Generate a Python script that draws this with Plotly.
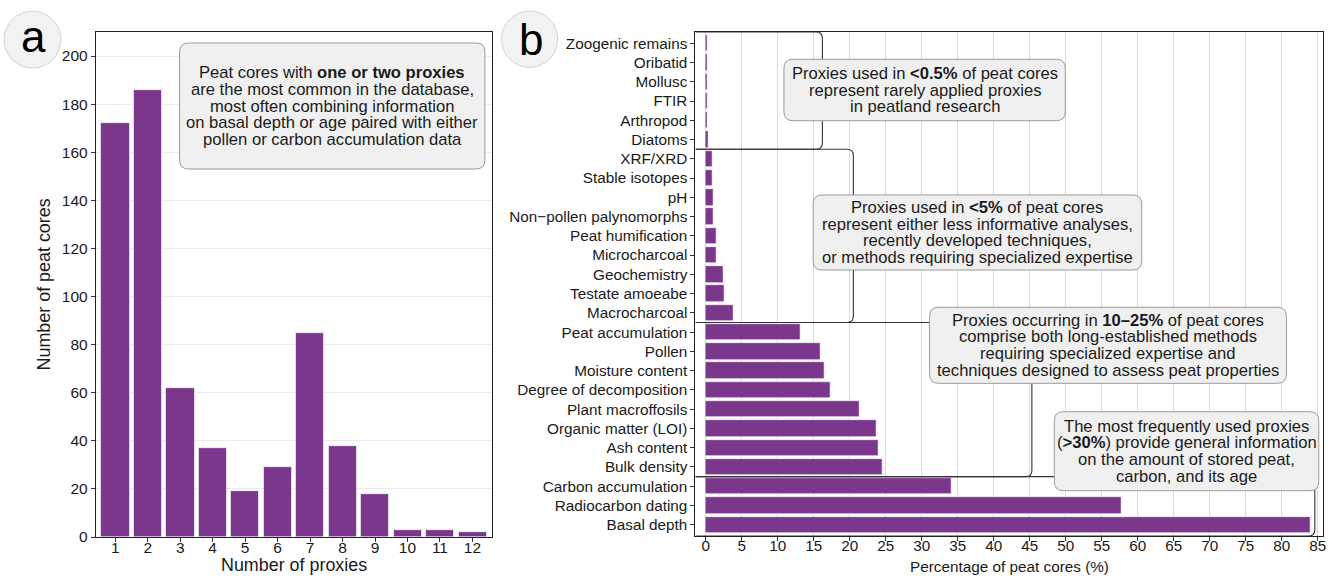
import plotly.graph_objects as go

W, H = 1338, 576
# Calibration: the figure renders 8 px shorter than requested, so ask for 8 px more.
H_REQ = H + 8
FONT = "Liberation Sans, Arial, Helvetica, sans-serif"
PURPLE = "#7a378b"
INK = "#1a1a1a"

# ---------------- data ----------------
# Panel a: number of proxies per peat core
n_proxies = list(range(1, 13))
n_cores = [172, 186, 62, 37, 19, 29, 85, 38, 18, 3, 3, 2]

# Panel b: percentage of peat cores using each proxy (top to bottom)
proxy_names = [
    "Zoogenic remains", "Oribatid", "Mollusc", "FTIR", "Arthropod", "Diatoms",
    "XRF/XRD", "Stable isotopes", "pH", "Non\u2212pollen palynomorphs",
    "Peat humification", "Microcharcoal", "Geochemistry", "Testate amoeabe",
    "Macrocharcoal", "Peat accumulation", "Pollen", "Moisture content",
    "Degree of decomposition", "Plant macroffosils", "Organic matter (LOI)",
    "Ash content", "Bulk density", "Carbon accumulation", "Radiocarbon dating",
    "Basal depth",
]
proxy_pct = [0.2, 0.2, 0.2, 0.2, 0.2, 0.4, 0.9, 0.9, 1.05, 1.05, 1.5, 1.5, 2.4,
             2.6, 3.9, 13.2, 16.0, 16.45, 17.3, 21.3, 23.75, 24.0, 24.5, 34.1,
             57.75, 84.0]
x_ticks_b = list(range(0, 90, 5))

# Groups (last index of each group) and bracket x position (percent)
group_last_idx = [5, 14, 22, 25]
bracket_x = [16.2, 20.5, 45.3, 84.6]

# Annotation texts
note_a = ["Peat cores with <b>one or two proxies</b>",
          "are the most common in the database,",
          "most often combining information",
          "on basal depth or age paired with either",
          "pollen or carbon accumulation data"]
notes_b = [
    ["Proxies used in <b>&lt;0.5%</b> of peat cores",
     "represent rarely applied proxies",
     "in peatland research"],
    ["Proxies used in <b>&lt;5%</b> of peat cores",
     "represent either less informative analyses,",
     "recently developed techniques,",
     "or methods requiring specialized expertise"],
    ["Proxies occurring in <b>10\u201325%</b> of peat cores",
     "comprise both long-established methods",
     "requiring specialized expertise and",
     "techniques designed to assess peat properties"],
    ["The most frequently used proxies",
     "(<b>&gt;30%</b>) provide general information",
     "on the amount of stored peat,",
     "carbon, and its age"],
]

# ---------------- layout geometry (pixels) ----------------
A_L, A_R, A_T, A_B = 96, 493, 32, 537
B_L, B_R, B_T, B_B = 697, 1326, 32, 536
XA_RANGE = [0.4, 12.6]
YA_RANGE = [0, 210]
XB_RANGE = [-1.43, 85.74]
NB = len(proxy_names)
YB_RANGE = [NB - 1 + 0.585, -0.585]

def px(x):
    return x / W

def py(y):
    return 1 - y / H

def rrect_paper(x0, y0, x1, y1, r):
    pts = [("M", [(x0 + r, y0)]), ("L", [(x1 - r, y0)]),
           ("Q", [(x1, y0), (x1, y0 + r)]), ("L", [(x1, y1 - r)]),
           ("Q", [(x1, y1), (x1 - r, y1)]), ("L", [(x0 + r, y1)]),
           ("Q", [(x0, y1), (x0, y1 - r)]), ("L", [(x0, y0 + r)]),
           ("Q", [(x0, y0), (x0 + r, y0)])]
    s = ""
    for cmd, ps in pts:
        s += cmd + " " + " ".join(f"{px(a):.6f},{py(b):.6f}" for a, b in ps) + " "
    return s + "Z"

fig = go.Figure()

fig.add_trace(go.Bar(
    x=n_proxies, y=n_cores, width=0.87,
    marker=dict(color=PURPLE, line=dict(color="white", width=0.6)),
    xaxis="x", yaxis="y", showlegend=False, hoverinfo="x+y"))

fig.add_trace(go.Bar(
    x=proxy_pct, y=list(range(NB)), orientation="h", width=0.85,
    marker=dict(color=PURPLE, line=dict(color="white", width=0.6)),
    xaxis="x2", yaxis="y2", showlegend=False, hoverinfo="x",
    customdata=proxy_names))

axis_common = dict(showline=True, linecolor="#222", linewidth=1, mirror=True,
                   ticks="outside", ticklen=4, tickcolor="#333", tickwidth=1,
                   zeroline=False)

shapes = []
annotations = []

# brackets (data coords of panel b)
rx, ry = 0.85, 0.32
prev = -0.585
for k, (last, bx) in enumerate(zip(group_last_idx, bracket_x)):
    top = prev
    bot = last + 0.5 if k < len(group_last_idx) - 1 else NB - 1 + 0.585
    path = (f"M {XB_RANGE[0]},{top} L {bx - rx},{top} Q {bx},{top} {bx},{top + ry} "
            f"L {bx},{bot - ry} Q {bx},{bot} {bx - rx},{bot} L {XB_RANGE[0]},{bot}")
    shapes.append(dict(type="path", xref="x2", yref="y2", path=path,
                       line=dict(color="#333", width=1.1)))
    prev = bot

# rounded boxes (pixels) and text lines
LS = 16.67
boxes = [
    (180, 43, 486, 169, note_a),
    (785.7, 59.3, 1067.7, 120.7, notes_b[0]),
    (815, 195, 1144.3, 270, notes_b[1]),
    (931.7, 307.3, 1289.3, 383.3, notes_b[2]),
    (1056.7, 411.7, 1321.7, 490.7, notes_b[3]),
]
for x0, y0, x1, y1, lines in boxes:
    shapes.append(dict(type="path", xref="paper", yref="paper",
                       path=rrect_paper(x0, y0, x1, y1, 9),
                       fillcolor="#f0f0f0", line=dict(color="#9a9a9a", width=1)))
    cx, cy = (x0 + x1) / 2, (y0 + y1) / 2
    n = len(lines)
    for i, t in enumerate(lines):
        yy = cy + (i - (n - 1) / 2) * LS
        annotations.append(dict(text=t, x=px(cx), y=py(yy), xref="paper", yref="paper",
                                xanchor="center", yanchor="middle", showarrow=False,
                                borderpad=0,
                                font=dict(family=FONT, size=16.6, color=INK)))

# panel label circles
for (cx, cy, r, lab, ly) in [(32.5, 39.7, 28.5, "a", 36), (530.8, 39.2, 28.2, "b", 39)]:
    shapes.append(dict(type="circle", xref="paper", yref="paper",
                       x0=px(cx - r), x1=px(cx + r), y0=py(cy + r), y1=py(cy - r),
                       fillcolor="#f2f2f2", line=dict(color="#d4d4d4", width=1)))
    annotations.append(dict(text=lab, x=px(cx + 1), y=py(ly), xref="paper", yref="paper",
                            xanchor="center", yanchor="middle", showarrow=False,
                            font=dict(family=FONT, size=44, color="black")))

# axis titles
annotations += [
    dict(text="Number of proxies", x=px((A_L + A_R) / 2), y=py(565), xref="paper",
         yref="paper", showarrow=False, xanchor="center", yanchor="middle",
         font=dict(family=FONT, size=17.9, color=INK)),
    dict(text="Number of peat cores", x=px(44), y=py((A_T + A_B) / 2), xref="paper",
         yref="paper", showarrow=False, xanchor="center", yanchor="middle", textangle=-90,
         font=dict(family=FONT, size=17.9, color=INK)),
    dict(text="Percentage of peat cores (%)", x=px((B_L + B_R) / 2), y=py(566),
         xref="paper", yref="paper", showarrow=False, xanchor="center", yanchor="middle",
         font=dict(family=FONT, size=15.3, color=INK)),
]

fig.update_layout(
    width=W, height=H_REQ, autosize=False,
    margin=dict(l=0, r=0, t=0, b=0),
    paper_bgcolor="white", plot_bgcolor="white",
    bargap=0, showlegend=False,
    xaxis=dict(domain=[px(A_L), px(A_R)], range=XA_RANGE, tickmode="array",
               tickvals=n_proxies, showgrid=False, anchor="y", ticklabelstandoff=-8,
               tickfont=dict(family=FONT, size=15.5, color=INK), **axis_common),
    yaxis=dict(domain=[py(A_B), py(A_T)], range=YA_RANGE, dtick=20, tick0=0,
               showgrid=True, gridcolor="#ebebeb", gridwidth=1, anchor="x",
               tickfont=dict(family=FONT, size=15.5, color=INK), **axis_common),
    xaxis2=dict(domain=[px(B_L), px(B_R)], range=XB_RANGE, tickmode="array",
                tickvals=x_ticks_b, showgrid=True, gridcolor="#d9d9d9", gridwidth=1,
                anchor="y2", ticklabelstandoff=-8,
                tickfont=dict(family=FONT, size=15.3, color=INK), **axis_common),
    yaxis2=dict(domain=[py(B_B), py(B_T)], range=YB_RANGE, tickmode="array",
                tickvals=list(range(NB)), ticktext=proxy_names, showgrid=False,
                anchor="x2",
                tickfont=dict(family=FONT, size=15.3, color=INK), **axis_common),
    shapes=shapes,
    annotations=annotations,
)

# remove the default 8 px body margin so the figure starts at the window corner
fig.write_html("out.html",
               config={"displayModeBar": False},
               post_script="document.body.style.margin='0';"
                           "document.body.style.overflow='hidden';")
